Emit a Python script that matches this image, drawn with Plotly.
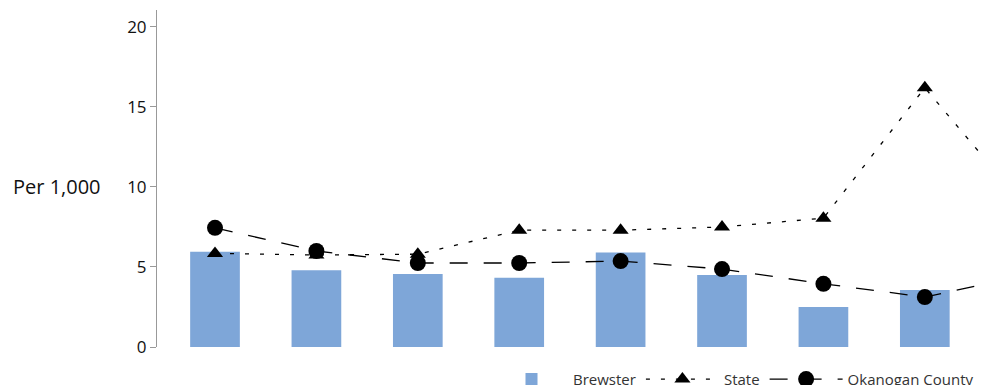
import plotly.graph_objects as go

categories = [0, 1, 2, 3, 4, 5, 6, 7, 8]
brewster = [5.95, 4.8, 4.56, 4.33, 5.9, 4.5, 2.5, 3.56, 4.0]
state = [5.85, 5.75, 5.8, 7.3, 7.3, 7.5, 8.05, 16.2, 8.7]
county = [7.45, 6.0, 5.25, 5.25, 5.37, 4.87, 3.95, 3.12, 4.5]
y_ticks = [0, 5, 10, 15, 20]

# page body has an 8px default margin; figure is sized to fill the visible window
OFF = 8
W, H = 988 - OFF, 385 - OFF
L, T = 157 - OFF, 10 - OFF
B = H - (347 - OFF)
PW = W - L

fig = go.Figure()
fig.add_trace(go.Bar(
    x=categories, y=brewster, name="Brewster",
    marker=dict(color="#7ea6d8", line=dict(width=0)),
    width=0.49,
))
fig.add_trace(go.Scatter(
    x=categories, y=state, name="State", mode="lines+markers",
    line=dict(color="black", width=1.3, dash="4px,11px"),
    marker=dict(symbol="triangle-up", size=14, color="black"),
))
fig.add_trace(go.Scatter(
    x=categories, y=county, name="Okanogan County", mode="lines+markers",
    line=dict(color="black", width=1.3, dash="18px,16px"),
    marker=dict(symbol="circle", size=16, color="black"),
))

fig.update_layout(
    width=W, height=H,
    margin=dict(l=L, r=0, t=T, b=B, autoexpand=False, pad=0),
    paper_bgcolor="white", plot_bgcolor="white",
    font=dict(family="Open Sans", size=17, color="#222"),
    showlegend=True,
    legend=dict(orientation="h", x=(490 - 157) / PW, xanchor="left", y=-0.096, yanchor="middle",
                font=dict(size=15, color="#333"), itemwidth=73,
                traceorder="normal", bgcolor="rgba(0,0,0,0)"),
    bargap=0.5,
    xaxis=dict(range=[-0.572, 7.623], showticklabels=False, showline=False,
               showgrid=False, zeroline=False, ticks=""),
    yaxis=dict(range=[0, 21.06], tickvals=y_ticks, showgrid=False, zeroline=False,
               showline=True, linecolor="#999", linewidth=1,
               ticks="outside", ticklen=6, tickcolor="#999",
               tickfont=dict(size=17, color="#111")),
    annotations=[dict(text="Per 1,000", x=(11 - 157) / PW, xref="paper", y=10, yref="y",
                      showarrow=False, xanchor="left", yanchor="middle",
                      font=dict(size=20, color="#111"))],
)

fig.write_html("out.html")
